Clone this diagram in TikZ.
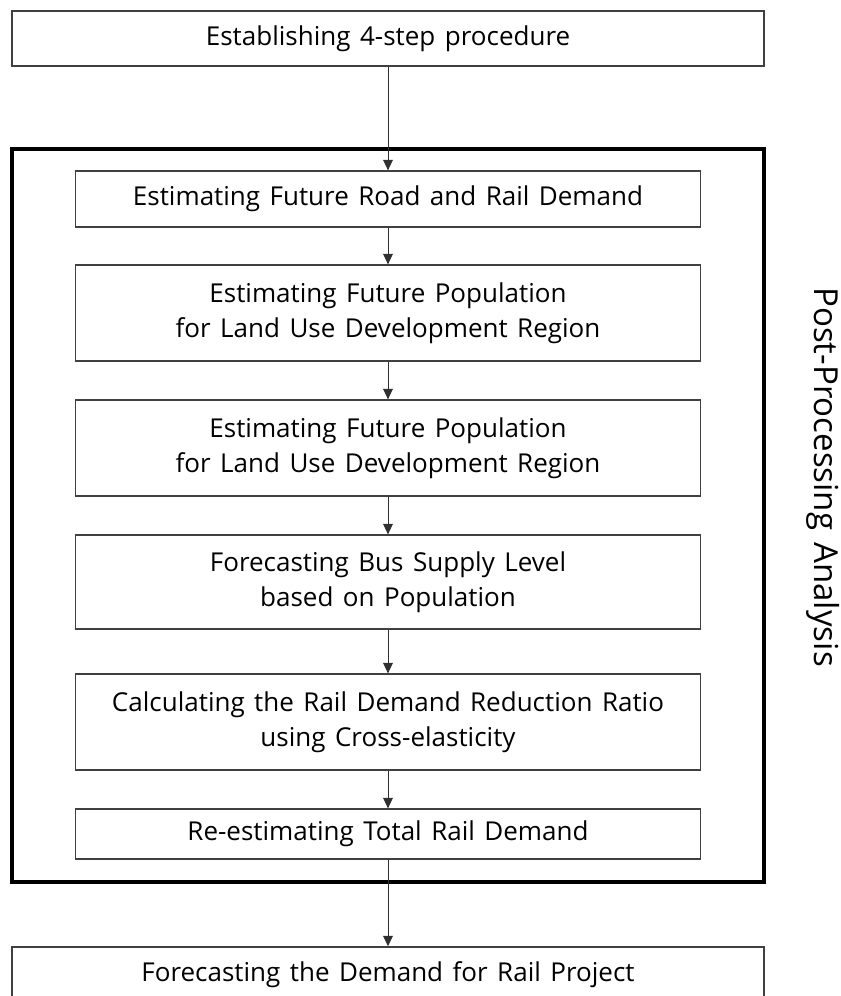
\documentclass[tikz,border=0pt]{standalone}
\usepackage{fontspec}
\setmainfont[WordSpace=1.4]{Open Sans}
\usepackage{tikz}
\usetikzlibrary{arrows.meta, positioning}
\usepackage{xcolor}
\definecolor{BoxGray}{HTML}{404040}
\definecolor{LineGray}{HTML}{303030}
\definecolor{FrameBlack}{HTML}{000000}
\tikzset{
    % Box styles - sharp corners, thin grey outline
    stagebox/.style={
        rectangle,
        draw=BoxGray,
        fill=white,
        line width=0.9pt,
        minimum width=18.8cm,
        minimum height=1.375cm,
        align=center,
        font=\fontsize{18.5}{25}\selectfont
    },
    stepbox/.style={
        rectangle,
        draw=BoxGray,
        fill=white,
        line width=0.9pt,
        minimum width=15.625cm,
        minimum height=2.4cm,
        align=center,
        font=\fontsize{18.5}{25}\selectfont
    },
    % Thick frame around the post-processing steps
    frame/.style={
        draw=FrameBlack,
        line width=2.8pt
    },
    % Arrow style - straight lines only
    arrow/.style={
        -{Triangle[length=0.26cm, width=0.24cm]},
        line width=0.7pt,
        draw=LineGray
    }
}

\begin{document}
\begin{tikzpicture}
    \useasboundingbox (0,0) rectangle (21.025,-24.9);

    \draw[frame] (0.3,-3.725) rectangle (19.1,-22.05);

    \node[stagebox] (fourstep) at (9.7,-0.9625) {Establishing 4-step procedure};

    \node[stepbox, minimum height=1.4cm] (roadrail) at (9.7,-4.975) {Estimating Future Road and Rail Demand};
    \node[stepbox] (popone) at (9.7,-7.825) {Estimating Future Population\\for Land Use Development Region};
    \node[stepbox] (poptwo) at (9.7,-11.2) {Estimating Future Population\\for Land Use Development Region};
    \node[stepbox, minimum height=2.35cm] (bussupply) at (9.7,-14.55) {Forecasting Bus Supply Level\\based on Population};
    \node[stepbox] (reduction) at (9.7,-18.05) {Calculating the Rail Demand Reduction Ratio\\using Cross-elasticity};
    \node[stepbox, minimum height=1.25cm] (reestimate) at (9.7,-20.85) {Re-estimating Total Rail Demand};

    \node[stagebox] (railproject) at (9.7,-24.36) {Forecasting the Demand for Rail Project};

    \node[rotate=-90, font=\fontsize{23.5}{28}\selectfont] (postproc) at (20.575,-11.925) {Post-Processing Analysis};

    \draw[arrow] (fourstep) -- (roadrail);
    \draw[arrow] (roadrail) -- (popone);
    \draw[arrow] (popone) -- (poptwo);
    \draw[arrow] (poptwo) -- (bussupply);
    \draw[arrow] (bussupply) -- (reduction);
    \draw[arrow] (reduction) -- (reestimate);
    \draw[arrow] (reestimate) -- (railproject);
\end{tikzpicture}
\end{document}
